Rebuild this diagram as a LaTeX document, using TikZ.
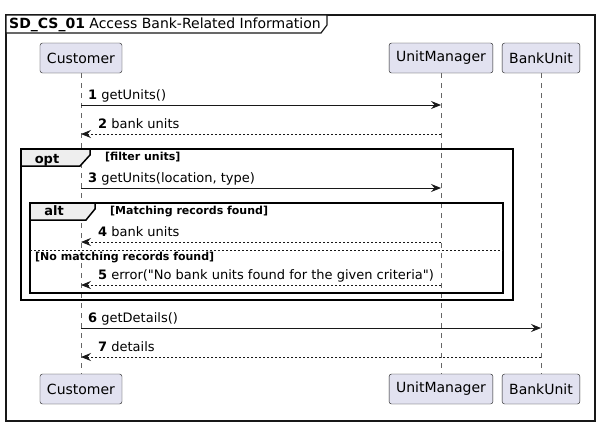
\documentclass[tikz,border=0pt]{standalone}
\usepackage{fontspec}
\setmainfont{DejaVu Sans}[Ligatures=TeXOff]
\usetikzlibrary{arrows.meta,positioning}

\definecolor{actorfill}{HTML}{E2E2F0}
\definecolor{tabfill}{HTML}{EEEEEE}
\definecolor{umlline}{HTML}{181818}

\begin{document}
\begin{tikzpicture}[
x=1pt, y=-1pt,
actor/.style={draw=umlline, fill=actorfill, rounded corners=2.5pt, minimum height=30pt, inner xsep=7pt, font=\fontsize{14}{16}\selectfont},
life/.style={draw=gray!80!black, line width=0.7pt, dash pattern=on 5pt off 5pt},
call/.style={-{Stealth[length=10pt,width=8pt,inset=3.5pt]}, draw=umlline, line width=0.9pt},
reply/.style={-{Stealth[length=10pt,width=8pt,inset=3.5pt]}, draw=umlline, line width=0.9pt, dash pattern=on 2pt off 2pt},
msg/.style={anchor=base west, inner sep=0pt, font=\fontsize{13}{15}\selectfont},
guard/.style={anchor=base west, inner sep=0pt, font=\bfseries\fontsize{11}{13}\selectfont},
frame/.style={draw=black, line width=1.5pt},
tab/.style={draw=black, line width=1.5pt, fill=tabfill}
]
\useasboundingbox (0,0) rectangle (601,426);

% outer frame
\draw[draw=umlline, line width=1.2pt] (6,15) rectangle (595,421);
\draw[draw=umlline, line width=1.2pt, fill=white] (6,15) -- (327,15) -- (327,25) -- (321,33) -- (6,33) -- cycle;
\node[anchor=base west, inner sep=0pt, font=\fontsize{14}{16}\selectfont] (title) at (9,28) {\textbf{SD\_CS\_01} Access Bank-Related Information};

% participants
\node[actor] (cust) at (81,58) {Customer};
\node[actor] (mgr) at (441,58) {UnitManager};
\node[actor] (unit) at (541,58) {BankUnit};
\node[actor] (custB) at (81,389) {Customer};
\node[actor] (mgrB) at (441,389) {UnitManager};
\node[actor] (unitB) at (541,389) {BankUnit};

\draw[life] (cust) -- (custB);
\draw[life] (mgr) -- (mgrB);
\draw[life] (unit) -- (unitB);

% opt fragment
\draw[frame] (21,149) rectangle (513,300);
\draw[tab] (21,149) -- (90,149) -- (90,155) -- (80,166) -- (21,166) -- cycle;
\node[anchor=base, inner sep=0pt, font=\bfseries\fontsize{13}{15}\selectfont] (opt) at (47,163) {opt};
\node[guard] (optg) at (105,160) {[filter units]};

% alt fragment
\draw[frame] (30,203) rectangle (503,293);
\draw[tab] (30,203) -- (95,203) -- (95,209) -- (86,220) -- (30,220) -- cycle;
\node[anchor=base, inner sep=0pt, font=\bfseries\fontsize{13}{15}\selectfont] (alt) at (54,215) {alt};
\node[guard] (altg) at (110,214) {[Matching records found]};
\draw[draw=umlline, line width=0.8pt, dash pattern=on 2pt off 2pt] (30,250) -- (503,250);
\node[guard] (elseg) at (35,260) {[No matching records found]};

% messages
\coordinate (c1) at (81,105); \coordinate (m1) at (441,105);
\draw[call] (c1) -- (m1);
\node[msg] (l1) at (88,99) {\textbf{1} getUnits()};

\coordinate (m2) at (441,134); \coordinate (c2) at (81,134);
\draw[reply] (m2) -- (c2);
\node[msg] (l2) at (98,128) {\textbf{2} bank units};

\coordinate (c3) at (81,188); \coordinate (m3) at (441,188);
\draw[call] (c3) -- (m3);
\node[msg] (l3) at (88,182) {\textbf{3} getUnits(location, type)};

\coordinate (m4) at (441,242); \coordinate (c4) at (81,242);
\draw[reply] (m4) -- (c4);
\node[msg] (l4) at (98,236) {\textbf{4} bank units};

\coordinate (m5) at (441,285); \coordinate (c5) at (81,285);
\draw[reply] (m5) -- (c5);
\node[msg] (l5) at (98,279) {\textbf{5} error("No bank units found for the given criteria")};

\coordinate (c6) at (81,328); \coordinate (u6) at (541,328);
\draw[call] (c6) -- (u6);
\node[msg] (l6) at (88,322) {\textbf{6} getDetails()};

\coordinate (u7) at (541,357); \coordinate (c7) at (81,357);
\draw[reply] (u7) -- (c7);
\node[msg] (l7) at (98,351) {\textbf{7} details};

\end{tikzpicture}
\end{document}
